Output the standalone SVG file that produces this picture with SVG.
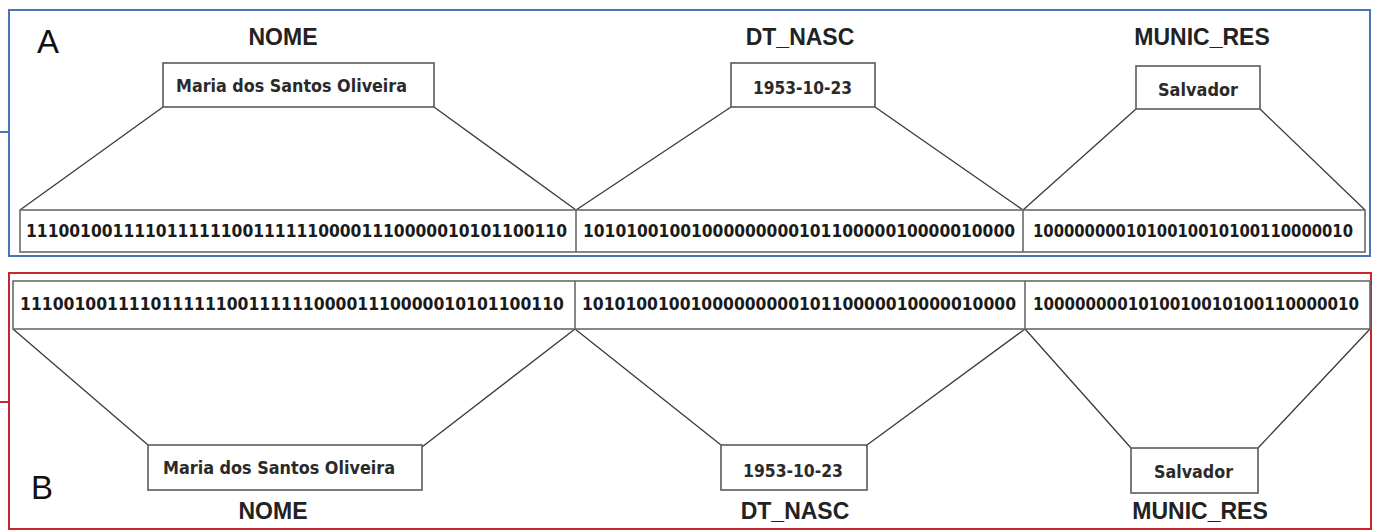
<svg xmlns="http://www.w3.org/2000/svg" width="1378" height="532" viewBox="0 0 1378 532">
  <style>
    .frameA { fill: none; stroke: #4a74b6; stroke-width: 2; }
    .frameB { fill: none; stroke: #c8262e; stroke-width: 2; }
    .box { fill: #ffffff; stroke: #5a5a5a; stroke-width: 1.6; }
    .row { fill: #ffffff; stroke: #6a6a6a; stroke-width: 1.6; }
    .div { stroke: #6a6a6a; stroke-width: 1.6; }
    .conn { stroke: #3a3a3a; stroke-width: 1.3; fill: none; }
    .panel { font-family: "Liberation Sans", Arial, sans-serif; font-size: 33px; fill: #111; }
    .field { font-family: "Liberation Sans", Arial, sans-serif; font-size: 23px; font-weight: bold; fill: #222; text-anchor: middle; }
    .val { font-family: "DejaVu Sans Condensed", "Liberation Sans", sans-serif; font-size: 17px; font-weight: bold; fill: #2a2a2a; }
    .bits { font-family: "DejaVu Sans Condensed", "Liberation Sans", sans-serif; font-size: 17px; font-weight: bold; fill: #1a1a1a; }
  </style>

  <!-- Panel A: value to bit encoding -->
  <g id="panelA">
    <rect class="frameA" x="9" y="10" width="1361" height="246"/>
    <line class="frameA" x1="0" y1="132" x2="9" y2="132"/>
    <text class="panel" x="37" y="53">A</text>
  </g>

  <g id="connectorsA">
    <line class="conn" x1="163" y1="107" x2="20" y2="210"/>
    <line class="conn" x1="434" y1="107" x2="576" y2="210"/>
    <line class="conn" x1="731" y1="107" x2="576" y2="210"/>
    <line class="conn" x1="875" y1="107" x2="1023" y2="210"/>
    <line class="conn" x1="1136" y1="109" x2="1023" y2="210"/>
    <line class="conn" x1="1260" y1="109" x2="1365" y2="210"/>
  </g>

  <g id="a-nome">
    <text class="field" x="283" y="45">NOME</text>
    <rect class="box" x="163" y="63" width="271" height="44"/>
    <text class="val" x="176" y="92" textLength="231" lengthAdjust="spacingAndGlyphs">Maria dos Santos Oliveira</text>
  </g>
  <g id="a-dtnasc">
    <text class="field" x="800" y="45">DT_NASC</text>
    <rect class="box" x="731" y="63" width="144" height="44"/>
    <text class="val" x="753" y="94" textLength="99" lengthAdjust="spacingAndGlyphs" font-weight="normal">1953-10-23</text>
  </g>
  <g id="a-munic">
    <text class="field" x="1202" y="45">MUNIC_RES</text>
    <rect class="box" x="1136" y="66" width="124" height="43"/>
    <text class="val" x="1158" y="96" textLength="80" lengthAdjust="spacingAndGlyphs">Salvador</text>
  </g>
  <g id="a-bits">
    <rect class="row" x="20" y="210" width="1345" height="42"/>
    <line class="div" x1="576" y1="210" x2="576" y2="252"/>
    <line class="div" x1="1023" y1="210" x2="1023" y2="252"/>
    <text class="bits" x="26" y="237" textLength="541" lengthAdjust="spacingAndGlyphs">11100100111101111110011111100001110000010101100110</text>
    <text class="bits" x="583" y="237" textLength="432" lengthAdjust="spacingAndGlyphs">1010100100100000000010110000010000010000</text>
    <text class="bits" x="1033" y="237" textLength="320" lengthAdjust="spacingAndGlyphs">1000000001010010010100110000010</text>
  </g>

  <!-- Panel B: bit decoding to value -->
  <g id="panelB">
    <rect class="frameB" x="9" y="273" width="1362" height="256"/>
    <line class="frameB" x1="0" y1="402" x2="9" y2="402"/>
    <text class="panel" x="31" y="499">B</text>
  </g>

  <g id="connectorsB">
    <line class="conn" x1="13" y1="329" x2="148" y2="445"/>
    <line class="conn" x1="422" y1="447" x2="575" y2="329"/>
    <line class="conn" x1="575" y1="329" x2="721" y2="445"/>
    <line class="conn" x1="867" y1="445" x2="1025" y2="329"/>
    <line class="conn" x1="1025" y1="329" x2="1131" y2="448"/>
    <line class="conn" x1="1258" y1="448" x2="1370" y2="329"/>
  </g>

  <g id="b-bits">
    <rect class="row" x="13" y="281" width="1357" height="48"/>
    <line class="div" x1="575" y1="281" x2="575" y2="329"/>
    <line class="div" x1="1025" y1="281" x2="1025" y2="329"/>
    <text class="bits" x="20" y="310" textLength="544" lengthAdjust="spacingAndGlyphs">11100100111101111110011111100001110000010101100110</text>
    <text class="bits" x="582" y="310" textLength="434" lengthAdjust="spacingAndGlyphs">1010100100100000000010110000010000010000</text>
    <text class="bits" x="1033" y="310" textLength="326" lengthAdjust="spacingAndGlyphs">1000000001010010010100110000010</text>
  </g>
  <g id="b-nome">
    <rect class="box" x="148" y="445" width="274" height="45"/>
    <text class="val" x="163" y="474" textLength="232" lengthAdjust="spacingAndGlyphs">Maria dos Santos Oliveira</text>
    <text class="field" x="273" y="519">NOME</text>
  </g>
  <g id="b-dtnasc">
    <rect class="box" x="721" y="445" width="146" height="45"/>
    <text class="val" x="743" y="477" textLength="100" lengthAdjust="spacingAndGlyphs" font-weight="normal">1953-10-23</text>
    <text class="field" x="795" y="519">DT_NASC</text>
  </g>
  <g id="b-munic">
    <rect class="box" x="1131" y="448" width="127" height="45"/>
    <text class="val" x="1154" y="478" textLength="79" lengthAdjust="spacingAndGlyphs">Salvador</text>
    <text class="field" x="1200" y="519">MUNIC_RES</text>
  </g>
</svg>
